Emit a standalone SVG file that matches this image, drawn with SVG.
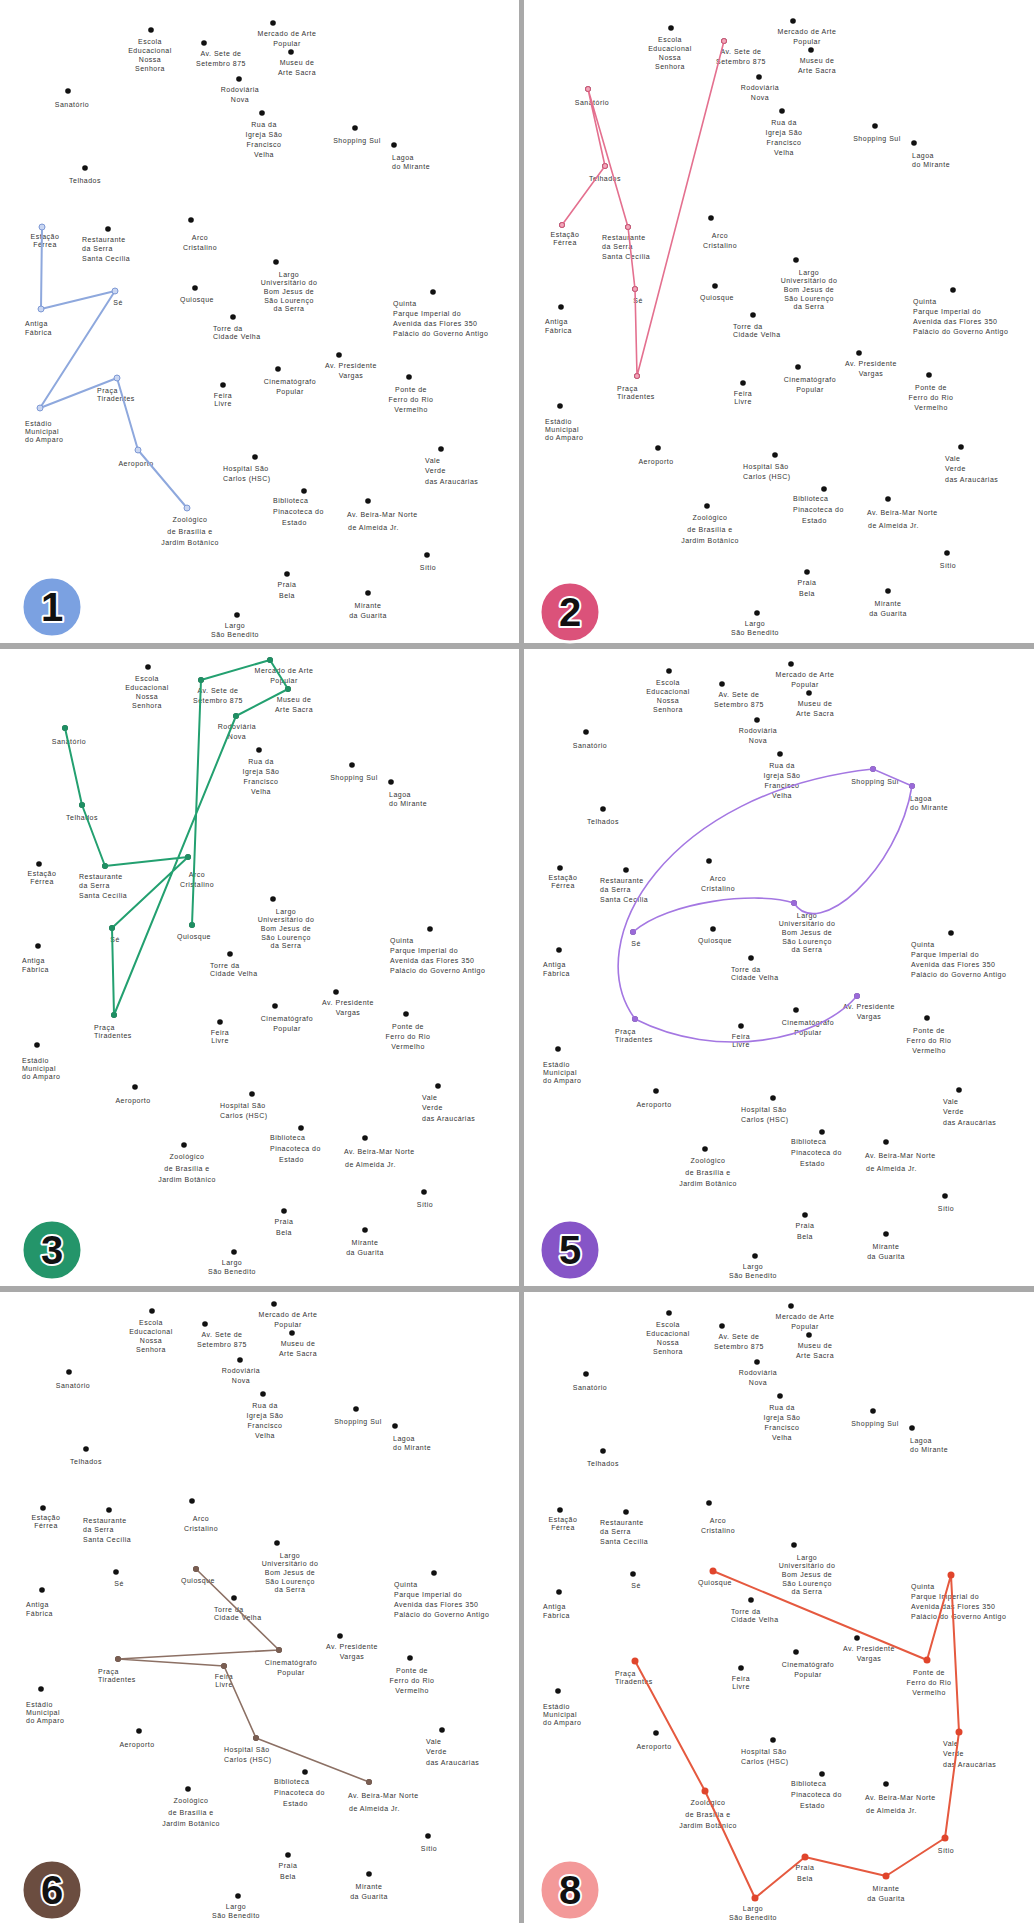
<svg xmlns="http://www.w3.org/2000/svg" xmlns:xlink="http://www.w3.org/1999/xlink" width="1034" height="1923" viewBox="0 0 1034 1923">
<style>
.t{font-family:"Liberation Sans",Arial,sans-serif;font-size:7px;fill:#333;letter-spacing:0.5px;text-anchor:middle}
.s{text-anchor:start}
.dot{fill:#111}
.div{fill:#a9a9a9}
.bn{font-family:"Liberation Sans",Arial,sans-serif;font-weight:bold;font-size:40px;fill:#111;stroke:#fff;stroke-width:4;paint-order:stroke;stroke-linejoin:round;text-anchor:middle}
.ring{stroke:#fff;stroke-width:3;opacity:0.9}
.c1{fill:none;stroke:#8ea8dd;stroke-width:2;stroke-linejoin:round}
.c2{fill:none;stroke:#e4708f;stroke-width:1.6;stroke-linejoin:round}
.c3{fill:none;stroke:#23a070;stroke-width:2;stroke-linejoin:round}
.c5{fill:none;stroke:#a477e2;stroke-width:1.6}
.c6{fill:none;stroke:#8c7064;stroke-width:1.6;stroke-linejoin:round}
.c8{fill:none;stroke:#e5593f;stroke-width:2;stroke-linejoin:round}
.m1{fill:#c9d6f2;stroke:#7f9ad6;stroke-width:1}
.m2{fill:#f0a8bb;stroke:#d95277;stroke-width:1}
.m3{fill:#1f8f63}
.m5{fill:#9a6ad8}
.m6{fill:#7a5e52}
.m8{fill:#e0452c}
</style>
<defs>
<g id="map">
<g id="n1"><circle class="dot" cx="151" cy="30" r="2.8"/><text class="t" y="43.5"><tspan x="150">Escola</tspan><tspan x="150" dy="9">Educacional</tspan><tspan x="150" dy="9">Nossa</tspan><tspan x="150" dy="9">Senhora</tspan></text></g>
<g id="n2"><circle class="dot" cx="273" cy="23" r="2.8"/><text class="t" y="35.5"><tspan x="287">Mercado de Arte</tspan><tspan x="287" dy="10">Popular</tspan></text></g>
<g id="n3"><circle class="dot" cx="204" cy="43" r="2.8"/><text class="t" y="55.5"><tspan x="221">Av. Sete de</tspan><tspan x="221" dy="10">Setembro 875</tspan></text></g>
<g id="n4"><circle class="dot" cx="291" cy="52" r="2.8"/><text class="t" y="64.5"><tspan x="297">Museu de</tspan><tspan x="297" dy="10">Arte Sacra</tspan></text></g>
<g id="n5"><circle class="dot" cx="68" cy="91" r="2.8"/><text class="t" y="106.5"><tspan x="72">Sanatório</tspan></text></g>
<g id="n6"><circle class="dot" cx="239" cy="79" r="2.8"/><text class="t" y="91.5"><tspan x="240">Rodoviária</tspan><tspan x="240" dy="10">Nova</tspan></text></g>
<g id="n7"><circle class="dot" cx="262" cy="113" r="2.8"/><text class="t" y="126.5"><tspan x="264">Rua da</tspan><tspan x="264" dy="10">Igreja São</tspan><tspan x="264" dy="10">Francisco</tspan><tspan x="264" dy="10">Velha</tspan></text></g>
<g id="n8"><circle class="dot" cx="355" cy="128" r="2.8"/><text class="t" y="142.5"><tspan x="357">Shopping Sul</tspan></text></g>
<g id="n9"><circle class="dot" cx="394" cy="145" r="2.8"/><text class="t s" y="159.5"><tspan x="392">Lagoa</tspan><tspan x="392" dy="9">do Mirante</tspan></text></g>
<g id="n10"><circle class="dot" cx="85" cy="168" r="2.8"/><text class="t" y="182.5"><tspan x="85">Telhados</tspan></text></g>
<g id="n11"><circle class="dot" cx="42" cy="227" r="2.8"/><text class="t" y="238.5"><tspan x="45">Estação</tspan><tspan x="45" dy="8">Férrea</tspan></text></g>
<g id="n12"><circle class="dot" cx="108" cy="229" r="2.8"/><text class="t s" y="241.5"><tspan x="82">Restaurante</tspan><tspan x="82" dy="9">da Serra</tspan><tspan x="82" dy="10">Santa Cecília</tspan></text></g>
<g id="n13"><circle class="dot" cx="191" cy="220" r="2.8"/><text class="t" y="239.5"><tspan x="200">Arco</tspan><tspan x="200" dy="10">Cristalino</tspan></text></g>
<g id="n14"><circle class="dot" cx="115" cy="291" r="2.8"/><text class="t" y="304.5"><tspan x="118">Sé</tspan></text></g>
<g id="n15"><circle class="dot" cx="195" cy="288" r="2.8"/><text class="t" y="301.5"><tspan x="197">Quiosque</tspan></text></g>
<g id="n16"><circle class="dot" cx="41" cy="309" r="2.8"/><text class="t s" y="325.5"><tspan x="25">Antiga</tspan><tspan x="25" dy="9">Fábrica</tspan></text></g>
<g id="n17"><circle class="dot" cx="276" cy="262" r="2.8"/><text class="t" y="276.5"><tspan x="289">Largo</tspan><tspan x="289" dy="8.7">Universitário do</tspan><tspan x="289" dy="8.7">Bom Jesus de</tspan><tspan x="289" dy="8.7">São Lourenço</tspan><tspan x="289" dy="8.7">da Serra</tspan></text></g>
<g id="n18"><circle class="dot" cx="433" cy="292" r="2.8"/><text class="t s" y="305.5"><tspan x="393">Quinta</tspan><tspan x="393" dy="10">Parque Imperial do</tspan><tspan x="393" dy="10">Avenida das Flores 350</tspan><tspan x="393" dy="10">Palácio do Governo Antigo</tspan></text></g>
<g id="n19"><circle class="dot" cx="233" cy="317" r="2.8"/><text class="t s" y="330.5"><tspan x="213">Torre da</tspan><tspan x="213" dy="8">Cidade Velha</tspan></text></g>
<g id="n20"><circle class="dot" cx="117" cy="378" r="2.8"/><text class="t s" y="392.5"><tspan x="97">Praça</tspan><tspan x="97" dy="8">Tiradentes</tspan></text></g>
<g id="n21"><circle class="dot" cx="339" cy="355" r="2.8"/><text class="t" y="367.5"><tspan x="351">Av. Presidente</tspan><tspan x="351" dy="10">Vargas</tspan></text></g>
<g id="n22"><circle class="dot" cx="278" cy="369" r="2.8"/><text class="t" y="383.5"><tspan x="290">Cinematógrafo</tspan><tspan x="290" dy="10">Popular</tspan></text></g>
<g id="n23"><circle class="dot" cx="223" cy="385" r="2.8"/><text class="t" y="397.5"><tspan x="223">Feira</tspan><tspan x="223" dy="8">Livre</tspan></text></g>
<g id="n24"><circle class="dot" cx="409" cy="377" r="2.8"/><text class="t" y="391.5"><tspan x="411">Ponte de</tspan><tspan x="411" dy="10">Ferro do Rio</tspan><tspan x="411" dy="10">Vermelho</tspan></text></g>
<g id="n25"><circle class="dot" cx="40" cy="408" r="2.8"/><text class="t s" y="425.5"><tspan x="25">Estádio</tspan><tspan x="25" dy="8">Municipal</tspan><tspan x="25" dy="8">do Amparo</tspan></text></g>
<g id="n26"><circle class="dot" cx="138" cy="450" r="2.8"/><text class="t" y="465.5"><tspan x="136">Aeroporto</tspan></text></g>
<g id="n27"><circle class="dot" cx="255" cy="457" r="2.8"/><text class="t s" y="470.5"><tspan x="223">Hospital São</tspan><tspan x="223" dy="10">Carlos (HSC)</tspan></text></g>
<g id="n28"><circle class="dot" cx="441" cy="449" r="2.8"/><text class="t s" y="462.5"><tspan x="425">Vale</tspan><tspan x="425" dy="10">Verde</tspan><tspan x="425" dy="11">das Araucárias</tspan></text></g>
<g id="n29"><circle class="dot" cx="304" cy="491" r="2.8"/><text class="t s" y="502.5"><tspan x="273">Biblioteca</tspan><tspan x="273" dy="11">Pinacoteca do</tspan><tspan x="282" dy="11">Estado</tspan></text></g>
<g id="n30"><circle class="dot" cx="368" cy="501" r="2.8"/><text class="t s" y="516.5"><tspan x="347">Av. Beira-Mar Norte</tspan><tspan x="348" dy="13">de Almeida Jr.</tspan></text></g>
<g id="n31"><circle class="dot" cx="187" cy="508" r="2.8"/><text class="t" y="521.5"><tspan x="190">Zoológico</tspan><tspan x="190" dy="12">de Brasília e</tspan><tspan x="190" dy="11">Jardim Botânico</tspan></text></g>
<g id="n32"><circle class="dot" cx="427" cy="555" r="2.8"/><text class="t" y="569.5"><tspan x="428">Sítio</tspan></text></g>
<g id="n33"><circle class="dot" cx="287" cy="574" r="2.8"/><text class="t" y="586.5"><tspan x="287">Praia</tspan><tspan x="287" dy="11">Bela</tspan></text></g>
<g id="n34"><circle class="dot" cx="368" cy="593" r="2.8"/><text class="t" y="607.5"><tspan x="368">Mirante</tspan><tspan x="368" dy="10">da Guarita</tspan></text></g>
<g id="n35"><circle class="dot" cx="237" cy="615" r="2.8"/><text class="t" y="627.5"><tspan x="235">Largo</tspan><tspan x="235" dy="9">São Benedito</tspan></text></g>
</g>
</defs>
<rect width="1034" height="1923" fill="#fff"/>
<g id="panels">
<use xlink:href="#map" href="#map" transform="translate(0,0)"/>
<use xlink:href="#map" href="#map" transform="translate(520,-2)"/>
<use xlink:href="#map" href="#map" transform="translate(-3,637)"/>
<use xlink:href="#map" href="#map" transform="translate(518,641)"/>
<use xlink:href="#map" href="#map" transform="translate(1,1281)"/>
<use xlink:href="#map" href="#map" transform="translate(518,1283)"/>
</g>
<g id="dividers">
<rect class="div" x="519" y="0" width="5" height="1923"/>
<rect class="div" x="0" y="643" width="1034" height="6"/>
<rect class="div" x="0" y="1286" width="1034" height="6"/>
</g>
<g id="connectors">
<g id="route1" transform="translate(0,0)">
<polyline class="c1" points="42,227 41,309 115,291 40,408 117,378 138,450 187,508"/>
<g><circle class="m1" cx="42" cy="227" r="3"/><circle class="m1" cx="41" cy="309" r="3"/><circle class="m1" cx="115" cy="291" r="3"/><circle class="m1" cx="40" cy="408" r="3"/><circle class="m1" cx="117" cy="378" r="3"/><circle class="m1" cx="138" cy="450" r="3"/><circle class="m1" cx="187" cy="508" r="3"/></g>
</g>
<g id="route2" transform="translate(520,-2)">
<polyline class="c2" points="42,227 85,168 68,91 108,229 115,291 117,378 204,43"/>
<g><circle class="m2" cx="42" cy="227" r="2.5"/><circle class="m2" cx="85" cy="168" r="2.5"/><circle class="m2" cx="68" cy="91" r="2.5"/><circle class="m2" cx="108" cy="229" r="2.5"/><circle class="m2" cx="115" cy="291" r="2.5"/><circle class="m2" cx="117" cy="378" r="2.5"/><circle class="m2" cx="204" cy="43" r="2.5"/></g>
</g>
<g id="route3" transform="translate(-3,637)">
<polyline class="c3" points="68,91 85,168 108,229 191,220 115,291 117,378 239,79 291,52 273,23 204,43 195,288"/>
<g class="m3"><circle cx="68" cy="91" r="3"/><circle cx="85" cy="168" r="3"/><circle cx="108" cy="229" r="3"/><circle cx="191" cy="220" r="3"/><circle cx="115" cy="291" r="3"/><circle cx="117" cy="378" r="3"/><circle cx="239" cy="79" r="3"/><circle cx="291" cy="52" r="3"/><circle cx="273" cy="23" r="3"/><circle cx="204" cy="43" r="3"/><circle cx="195" cy="288" r="3"/></g>
</g>
<g id="route5" transform="translate(518,641)">
<path class="c5" d="M117,378 C60,300 150,150 355,128 L394,145 C380,230 300,300 276,262 M117,378 C200,420 300,400 339,355 M115,291 C150,260 240,250 276,262"/>
<g class="m5"><circle cx="117" cy="378" r="3"/><circle cx="355" cy="128" r="3"/><circle cx="394" cy="145" r="3"/><circle cx="276" cy="262" r="3"/><circle cx="339" cy="355" r="3"/><circle cx="115" cy="291" r="3"/></g>
</g>
<g id="route6" transform="translate(1,1281)">
<polyline class="c6" points="195,288 278,369 117,378 223,385 255,457 368,501"/>
<g class="m6"><circle cx="195" cy="288" r="3"/><circle cx="278" cy="369" r="3"/><circle cx="117" cy="378" r="3"/><circle cx="223" cy="385" r="3"/><circle cx="255" cy="457" r="3"/><circle cx="368" cy="501" r="3"/></g>
</g>
<g id="route8" transform="translate(518,1283)">
<polyline class="c8" points="195,288 409,377 433,292 441,449 427,555 368,593 287,574 237,615 187,508 117,378"/>
<g class="m8"><circle cx="195" cy="288" r="3.5"/><circle cx="409" cy="377" r="3.5"/><circle cx="433" cy="292" r="3.5"/><circle cx="441" cy="449" r="3.5"/><circle cx="427" cy="555" r="3.5"/><circle cx="368" cy="593" r="3.5"/><circle cx="287" cy="574" r="3.5"/><circle cx="237" cy="615" r="3.5"/><circle cx="187" cy="508" r="3.5"/><circle cx="117" cy="378" r="3.5"/></g>
</g>
</g>
<g id="badges">
<g id="b1"><circle class="ring" cx="52" cy="607" r="30" fill="#6d97de"/><text class="bn" x="52" y="621">1</text></g>
<g id="b2"><circle class="ring" cx="570" cy="612" r="30" fill="#d8406c"/><text class="bn" x="570" y="626">2</text></g>
<g id="b3"><circle class="ring" cx="52" cy="1250" r="30" fill="#0d8a5a"/><text class="bn" x="52" y="1264">3</text></g>
<g id="b5"><circle class="ring" cx="570" cy="1250" r="30" fill="#7a43c2"/><text class="bn" x="570" y="1264">5</text></g>
<g id="b6"><circle class="ring" cx="52" cy="1890" r="30" fill="#5b3a2c"/><text class="bn" x="52" y="1904">6</text></g>
<g id="b8"><circle class="ring" cx="570" cy="1890" r="30" fill="#f28f8f"/><text class="bn" x="570" y="1904">8</text></g>
</g>
</svg>
